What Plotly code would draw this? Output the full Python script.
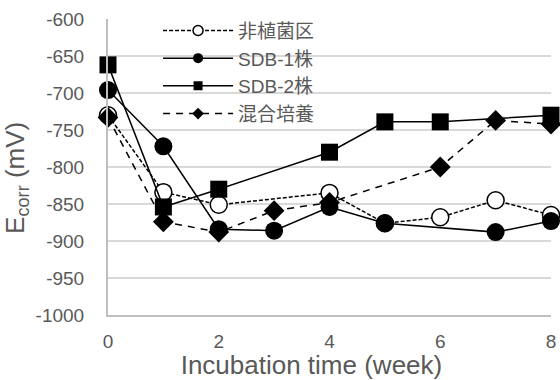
import plotly.graph_objects as go

# Data
x_ctrl = [0, 1, 2, 4, 5, 6, 7, 8]
y_ctrl = [-730, -834, -851, -835, -876, -868, -845, -865]
x_sdb1 = [0, 1, 2, 3, 4, 5, 7, 8]
y_sdb1 = [-696, -772, -884, -886, -854, -876, -888, -873]
x_sdb2 = [0, 1, 2, 4, 5, 6, 8]
y_sdb2 = [-662, -854, -830, -780, -739, -739, -730]
x_mix = [0, 1, 2, 3, 4, 6, 7, 8]
y_mix = [-733, -874, -888, -859, -848, -800, -737, -742]
names = ["非植菌区", "SDB-1株", "SDB-2株", "混合培養"]
x_ticks = [0, 2, 4, 6, 8]
y_ticks = [-600, -650, -700, -750, -800, -850, -900, -950, -1000]

FONT = "Liberation Sans, Arial, Noto Sans CJK JP, sans-serif"
GRAY = "#595959"

styles = [
    dict(line=dict(color="black", width=1.5, dash="4px,2px"),
         symbol="circle", size=17, color="white", lw=1.5, lsize=10),
    dict(line=dict(color="black", width=1.5),
         symbol="circle", size=18, color="black", lw=0, lsize=10),
    dict(line=dict(color="black", width=1.5),
         symbol="square", size=17, color="black", lw=0, lsize=9),
    dict(line=dict(color="black", width=1.5, dash="7px,6px"),
         symbol="diamond", size=16, color="black", lw=0, lsize=9),
]
series = [(x_ctrl, y_ctrl), (x_sdb1, y_sdb1), (x_sdb2, y_sdb2), (x_mix, y_mix)]

fig = go.Figure()
for (xs, ys), nm, st in zip(series, names, styles):
    fig.add_trace(go.Scatter(
        x=xs, y=ys, name=nm, mode="lines+markers", showlegend=False,
        line=st["line"],
        marker=dict(symbol=st["symbol"], size=st["size"], color=st["color"],
                    line=dict(color="black", width=st["lw"])),
        cliponaxis=False))
# legend entries with smaller symbols (no data drawn)
for nm, st in zip(names, styles):
    fig.add_trace(go.Scatter(
        x=[None], y=[None], name=nm, mode="lines+markers", showlegend=True,
        line=st["line"],
        marker=dict(symbol=st["symbol"], size=st["lsize"], color=st["color"],
                    line=dict(color="black", width=st["lw"]))))

fig.update_layout(
    width=560, height=380,
    margin=dict(l=108, r=9, t=19, b=65),
    paper_bgcolor="white", plot_bgcolor="white",
    font=dict(family=FONT, color=GRAY, size=19),
    legend=dict(x=0.113, y=1.025, xanchor="left", yanchor="top",
                bgcolor="rgba(0,0,0,0)", font=dict(size=19, color=GRAY),
                itemwidth=70, tracegroupgap=0),
    xaxis=dict(range=[0, 8], tickvals=x_ticks, ticktext=[str(v) for v in x_ticks],
               showgrid=False, zeroline=False, showline=True, linecolor="#bfbfbf",
               linewidth=2, ticks="", ticklabelstandoff=8, automargin=False,
               tickfont=dict(size=19, color=GRAY),
               title=dict(text="Incubation time (week)" + "&nbsp;" * 5,
                          font=dict(size=26, color=GRAY), standoff=3)),
    yaxis=dict(range=[-1000, -600], tickvals=y_ticks, ticktext=[str(v) for v in y_ticks],
               showgrid=True, gridcolor="#d9d9d9", gridwidth=1.5, zeroline=False,
               showline=True, linecolor="#bfbfbf", linewidth=2, ticks="",
               ticklabelstandoff=18, automargin=False,
               tickfont=dict(size=19, color=GRAY),
               title=dict(text="E<sub>corr</sub> (mV)" + "&nbsp;" * 3,
                          font=dict(size=26, color=GRAY), standoff=4)),
)

fig.write_html("out.html", config={"displayModeBar": False},
               post_script="document.body.style.margin='0';"
                           "document.body.style.padding='0';"
                           "document.body.style.overflow='hidden';")
